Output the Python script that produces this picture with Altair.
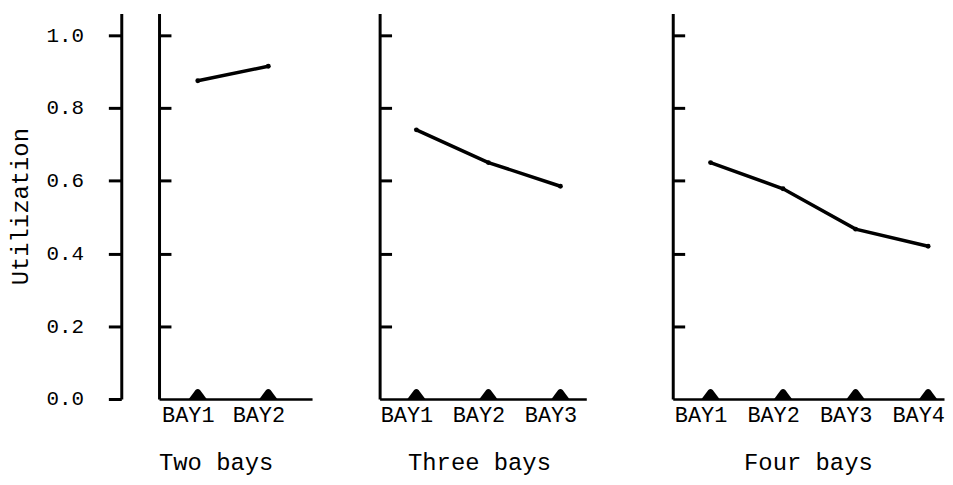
import altair as alt
import pandas as pd

# ---- data ----
panel_titles = ["Two bays", "Three bays", "Four bays"]
two_bays_util = [0.875, 0.915]
three_bays_util = [0.74, 0.65, 0.585]
four_bays_util = [0.65, 0.578, 0.467, 0.42]
y_ticks = [0.0, 0.2, 0.4, 0.6, 0.8, 1.0]
inner_ticks = [0.2, 0.4, 0.6, 0.8, 1.0]

FONT = "Liberation Mono"
PLOT_H = 388
yscale = alt.Scale(domain=[0, 1.06], nice=False, zero=False)
NO_VIEW = alt.ViewBackground(stroke="transparent", strokeWidth=0)

# triangle marker sitting on the baseline (custom path, base at the data point)
TRI = "M-1,0L-0.25,-1.0Q0,-1.25,0.25,-1.0L1,0Z"


def panel(values, title, width, domain, title_x):
    n = len(values)
    df = pd.DataFrame({
        "pos": list(range(1, n + 1)),
        "util": values,
    })
    base = alt.Chart(df)
    xenc = alt.X(
        "pos:Q",
        scale=alt.Scale(domain=domain, nice=False, zero=False),
        axis=alt.Axis(
            values=list(range(1, n + 1)),
            labelExpr="'BAY' + datum.value",
            ticks=False,
            grid=False,
            labelOffset=-10,
            labelPadding=6,
            labelFont=FONT,
            labelFontSize=22,
            labelColor="black",
            domainColor="black",
            domainWidth=2.5,
            title=title,
            titleFont=FONT,
            titleFontSize=24,
            titleFontWeight="normal",
            titleColor="black",
            titlePadding=25,
            titleX=title_x,
        ),
    )
    yaxis = alt.Axis(
        orient="right",
        offset=-width,
        values=inner_ticks,
        labels=False,
        tickSize=12,
        tickWidth=3,
        tickColor="black",
        domainColor="black",
        domainWidth=3,
        grid=False,
        title=None,
    )
    line = base.mark_line(color="black", strokeWidth=3.5).encode(
        x=xenc, y=alt.Y("util:Q", scale=yscale, axis=yaxis)
    )
    dots = base.mark_circle(color="black", size=24, opacity=1).encode(
        x="pos:Q", y="util:Q"
    )
    tri = base.mark_point(
        shape=TRI, filled=True, color="black", size=324, opacity=1, strokeWidth=0
    ).encode(x="pos:Q", y=alt.datum(0))
    return alt.layer(line, dots, tri).properties(
        width=width, height=PLOT_H, view=NO_VIEW
    )


def spacer(w):
    return (
        alt.Chart(pd.DataFrame({"v": [0]}))
        .mark_point(opacity=0)
        .properties(width=w, height=PLOT_H, view=NO_VIEW)
    )


left_axis = (
    alt.Chart(pd.DataFrame({"util": y_ticks}))
    .mark_tick(opacity=0)
    .encode(
        y=alt.Y(
            "util:Q",
            scale=yscale,
            axis=alt.Axis(
                orient="left",
                values=y_ticks,
                format=".1f",
                tickSize=13,
                tickWidth=3,
                tickColor="black",
                domainColor="black",
                domainWidth=3,
                labelPadding=25,
                labelFont=FONT,
                labelFontSize=21,
                labelColor="black",
                title="Utilization",
                titleFont=FONT,
                titleFontSize=24,
                titleFontWeight="normal",
                titleColor="black",
                titlePadding=14,
                grid=False,
            ),
        )
    )
    .properties(width=1, height=PLOT_H, view=NO_VIEW)
)

p1 = panel(two_bays_util, panel_titles[0], 154, [0.451, 2.62], 57)
p2 = panel(three_bays_util, panel_titles[1], 208, [0.49, 3.359], 100)
p3 = panel(four_bays_util, panel_titles[2], 273, [0.479, 4.219], 136)

chart = (
    alt.hconcat(
        left_axis, spacer(37), p1, spacer(68), p2, spacer(87), p3,
        spacing=0,
        bounds="flush",
    )
    .properties(padding={"left": 0, "top": 4, "right": 0, "bottom": 0})
    .configure_view(stroke="transparent", strokeWidth=0)
    .configure(background="white")
)

chart.save("out.html", embed_options={"renderer": "svg", "actions": False})
